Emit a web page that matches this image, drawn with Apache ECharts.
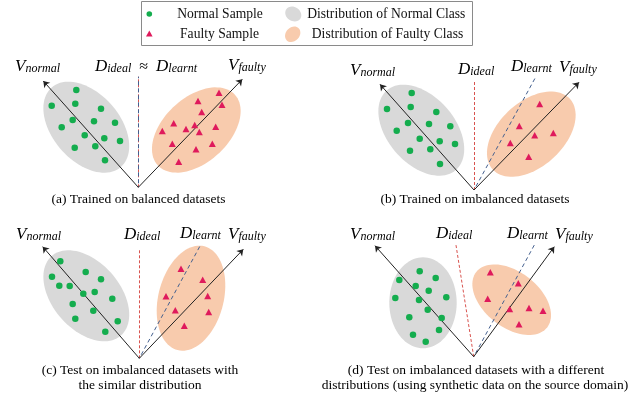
<!DOCTYPE html>
<html><head><meta charset="utf-8">
<script src="https://cdn.jsdelivr.net/npm/echarts@6/dist/echarts.min.js"></script>
<style>html,body{margin:0;padding:0;background:#fff}#c{width:641px;height:401px}</style>
</head><body><div id="c"></div>
<script>
// ---- data (pixel-space coordinates of the schematic) ----
const normalA = [[76.3,90],[51.7,105.7],[75.3,103.7],[101,108.7],[72.7,120],[94,121.3],[115,122.7],[61.7,127.3],[84.7,135.3],[104.3,138.3],[120,141],[74.7,147.7],[95.3,146.3],[105,160.3]];
const faultyA = [[219,92.7],[198,101],[222,104.7],[201.7,112],[173.7,123.3],[186,129],[194.7,125],[199.3,132],[215.7,126.7],[162.3,131],[172.3,143.7],[196,149.3],[212.3,143.7],[178.7,161.7]];
const normalB = [[411.7,93],[387,109],[410.7,107],[436.3,112],[408,123],[429,124],[450.3,126.3],[396.7,130.7],[419.7,138.7],[439.7,141.3],[455,144],[410,150.7],[430.3,149.3],[440,164]];
const faultyB = [[539.7,104],[519.3,126],[534.7,135.3],[553.3,133],[510.3,143],[528.7,156.7]];
const normalC = [[60.3,261.3],[85.7,272],[52,276.7],[101,279.3],[59.3,285.7],[69.7,286],[83.3,293.7],[94.7,292],[112.3,298.7],[72.7,304],[93.3,310.7],[75.3,318.7],[117.7,321.3],[105.3,331.7]];
const faultyC = [[181,268.7],[202.7,279.7],[166,296.3],[207.7,296],[175.3,310.3],[208.7,312],[184.3,325.7]];
const normalD = [[419.7,271.3],[399.3,280],[435.7,278],[415.7,286],[428.7,290.7],[395.3,298],[419,300],[446.3,297.3],[427.7,309.7],[409.3,317.3],[441.7,318],[439,330],[413,334.7],[425.7,341.7]];
const faultyD = [[490.3,272.3],[518.3,283.3],[487.7,298.7],[509.7,309],[529,308],[543,310.7],[519,324.3]];
// distributions: [cx, cy, semiMajor, semiMinor, angleDeg]
const normalDist = [[86.3,127.2,52.7,33.7,49],[421.3,130.2,52.7,33.7,49],[86.3,295.8,52.7,33.7,49],[423,302.8,45.5,33.7,90]];
const faultyDist = [[196.3,130,52.3,32.4,-42.5],[531.3,134.2,52.3,32.4,-42.5],[191,298.2,53.6,32.6,-75.5],[511.7,299.7,45,27.7,38]];
// axes of each panel
const origins = [[138.3,187.3],[474,190],[139.3,358.3],[473.7,356.7]];
const vNormalTips = [[43.3,81],[380,84.3],[42.7,246.7],[375,245.7]];
const vFaultyTips = [[242.3,79.3],[579,82.3],[243.3,249.3],[554.3,246.7]];
const dIdealTips = [[138.3,76.7],[474,80.7],[139.3,248.3],[455.7,243.3]];
const dLearntTips = [[138.3,76.7],[535,78.3],[200,246],[534.7,244.3]];

const serif = '"Liberation Serif","Times New Roman",serif';
const GREEN = '#14ad4e', RED = '#df1a5c', GRAY = '#d9d9d9', ORANGE = '#f8cbad';

function ellipseSeries(name, data, color) {
  return {
    type: 'custom', name, z: 1, data,
    encode: {x: 0, y: 1},
    renderItem: function (params, api) {
      const cx = api.value(0), cy = api.value(1), a = api.value(2), b = api.value(3), th = api.value(4) * Math.PI / 180;
      const pts = [];
      for (let i = 0; i < 90; i++) {
        const t = i / 90 * Math.PI * 2;
        const x = cx + a * Math.cos(th) * Math.cos(t) - b * Math.sin(th) * Math.sin(t);
        const y = cy + a * Math.sin(th) * Math.cos(t) + b * Math.cos(th) * Math.sin(t);
        pts.push(api.coord([x, y]));
      }
      return {type: 'polygon', shape: {points: pts}, style: {fill: color}};
    }
  };
}
function segs(from, to) { return from.map((o, i) => ({coords: [o, to[i]]})); }

const chart = echarts.init(document.getElementById('c'), null, {renderer: 'canvas'});

function lbl(x, y, main, sub, extra) {
  let text = '{m|' + main + '}{s|' + sub + '}';
  if (extra) text += extra;
  return {
    type: 'text', x, y, z: 10,
    style: {
      text, verticalAlign: 'middle', align: 'left',
      rich: {
        m: {fontFamily: serif, fontStyle: 'italic', fontSize: 17, fill: '#000', verticalAlign: 'bottom', lineHeight: 20},
        s: {fontFamily: serif, fontStyle: 'italic', fontSize: 12, fill: '#000', verticalAlign: 'bottom', lineHeight: 5},
        n: {fontFamily: serif, fontSize: 16, fill: '#000', verticalAlign: 'bottom', lineHeight: 20}
      }
    }
  };
}
function cap(x, y, t) {
  return {type: 'text', x, y, z: 10, style: {text: t, align: 'center', verticalAlign: 'middle', fontFamily: serif, fontSize: 13.5, fill: '#000'}};
}

const graphic = [
  {type: 'rect', z: 5, shape: {x: 141.5, y: 1.5, width: 331, height: 44}, style: {fill: '#fff', stroke: '#8a8a8a', lineWidth: 1}},
  {type: 'circle', z: 6, shape: {cx: 149.3, cy: 14, r: 2.8}, style: {fill: GREEN}},
  {type: 'polygon', z: 6, shape: {points: [[149.3, 30.6], [152.6, 36.6], [146, 36.6]]}, style: {fill: RED}},
  {type: 'ellipse', z: 6, x: 293.3, y: 14, rotation: -0.6, shape: {cx: 0, cy: 0, rx: 8.5, ry: 7}, style: {fill: GRAY}},
  {type: 'ellipse', z: 6, x: 292.7, y: 34.3, rotation: 0.8, shape: {cx: 0, cy: 0, rx: 8.5, ry: 6.8}, style: {fill: ORANGE}},
  {type: 'text', z: 6, x: 220, y: 14.5, style: {text: 'Normal Sample', align: 'center', verticalAlign: 'middle', fontFamily: serif, fontSize: 13.6, fill: '#111'}},
  {type: 'text', z: 6, x: 219.5, y: 34.8, style: {text: 'Faulty Sample', align: 'center', verticalAlign: 'middle', fontFamily: serif, fontSize: 13.6, fill: '#111'}},
  {type: 'text', z: 6, x: 386.3, y: 14.5, style: {text: 'Distribution of Normal Class', align: 'center', verticalAlign: 'middle', fontFamily: serif, fontSize: 13.6, fill: '#111'}},
  {type: 'text', z: 6, x: 387.5, y: 34.8, style: {text: 'Distribution of Faulty Class', align: 'center', verticalAlign: 'middle', fontFamily: serif, fontSize: 13.6, fill: '#111'}},
  // panel labels
  lbl(15, 65, 'V', 'normal'),
  lbl(95, 65, 'D', 'ideal', '{n|  ≈  }{m|D}{s|learnt}'),
  lbl(228, 64, 'V', 'faulty'),
  lbl(350, 69, 'V', 'normal'),
  lbl(458, 68, 'D', 'ideal'),
  lbl(511, 65, 'D', 'learnt'),
  lbl(559, 66, 'V', 'faulty'),
  lbl(16, 233, 'V', 'normal'),
  lbl(124, 233, 'D', 'ideal'),
  lbl(180, 232, 'D', 'learnt'),
  lbl(228, 233, 'V', 'faulty'),
  lbl(350, 233, 'V', 'normal'),
  lbl(436, 232, 'D', 'ideal'),
  lbl(507, 232, 'D', 'learnt'),
  lbl(555, 233, 'V', 'faulty'),
  cap(138.5, 199, '(a) Trained on balanced datasets'),
  cap(475, 199, '(b) Trained on imbalanced datasets'),
  cap(140, 370, '(c) Test on imbalanced datasets with'),
  cap(140, 385.5, 'the similar distribution'),
  cap(476, 370, '(d) Test on imbalanced datasets with a different'),
  cap(475, 385.5, 'distributions (using synthetic data on the source domain)')
];

const option = {
  animation: false,
  backgroundColor: '#fff',
  grid: {left: 0, right: 0, top: 0, bottom: 0},
  xAxis: {type: 'value', min: 0, max: 641, show: false},
  yAxis: {type: 'value', min: 0, max: 401, inverse: true, show: false},
  graphic,
  series: [
    ellipseSeries('Distribution of Normal Class', normalDist, GRAY),
    ellipseSeries('Distribution of Faulty Class', faultyDist, ORANGE),
    {type: 'lines', coordinateSystem: 'cartesian2d', z: 2, symbol: ['none', 'none'],
      lineStyle: {color: '#d9534f', width: 1, type: [3, 2], opacity: 1}, data: segs(origins, dIdealTips)},
    {type: 'lines', coordinateSystem: 'cartesian2d', z: 2, symbol: ['none', 'none'],
      lineStyle: {color: '#44608f', width: 1, type: [4, 3], dashOffset: 3, opacity: 1}, data: segs(origins, dLearntTips)},
    {type: 'lines', coordinateSystem: 'cartesian2d', z: 3, symbol: ['none', 'arrow'], symbolSize: 6,
      lineStyle: {color: '#222', width: 1, type: 'solid', opacity: 1}, data: segs(origins, vNormalTips).concat(segs(origins, vFaultyTips))},
    {type: 'scatter', name: 'Normal Sample', z: 4, symbol: 'circle', symbolSize: 6.5, itemStyle: {color: GREEN, opacity: 1},
      data: normalA.concat(normalB, normalC, normalD)},
    {type: 'scatter', name: 'Faulty Sample', z: 4, symbol: 'triangle', symbolSize: [7, 6.5], itemStyle: {color: RED, opacity: 1},
      data: faultyA.concat(faultyB, faultyC, faultyD)}
  ]
};
chart.setOption(option);
</script></body></html>
